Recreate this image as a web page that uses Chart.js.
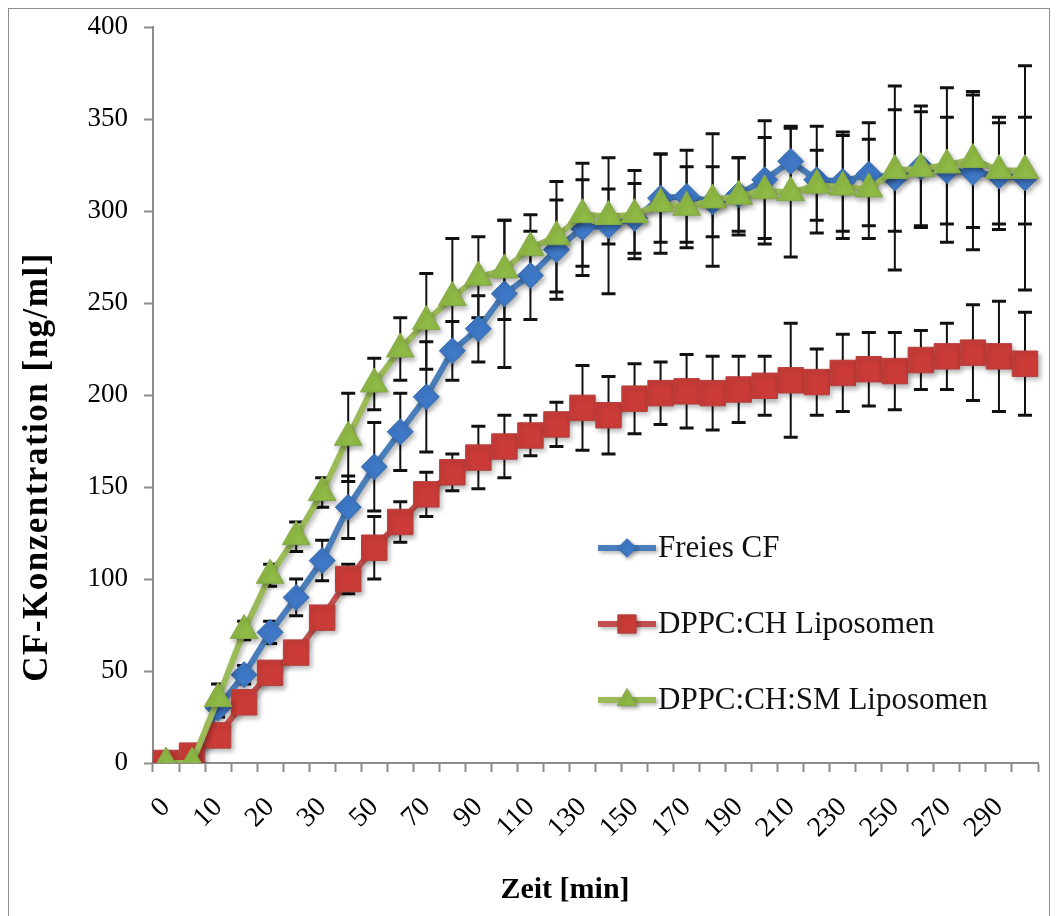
<!DOCTYPE html>
<html>
<head>
<meta charset="utf-8">
<title>CF-Freisetzung</title>
<script src="https://cdn.jsdelivr.net/npm/chart.js"></script>
<style>
  body { margin: 0; background: #fff; }
  #wrap { position: relative; width: 1057px; height: 916px; }
  #frame { position: absolute; left: 8px; top: 8px; width: 1040px; height: 930px;
           border: 1px solid #8c8c8c; pointer-events: none; }
</style>
</head>
<body>
<div id="wrap">
  <canvas id="myChart"></canvas>
  <div id="frame"></div>
</div>
<script>
// Zeitpunkte [min]
const minutes = [0, 5, 10, 15, 20, 25, 30, 40, 50, 60, 70, 80, 90, 100, 110, 120, 130, 140, 150,
  160, 170, 180, 190, 200, 210, 220, 230, 240, 250, 260, 270, 280, 290, 300];

// CF-Konzentration [ng/ml], Mittelwerte
const freiesCF = [0, 0, 30, 48, 71, 90, 110, 139, 161, 180, 199, 224, 236, 255, 265, 279, 291,
  292, 296, 307, 308, 305, 309, 317, 327, 317, 316, 320, 318, 324, 322, 321, 319, 318];
const dppcCh = [0, 4, 15, 33, 49, 60, 79, 100, 117, 131, 146, 158, 166, 172, 178, 184, 193,
  189, 198, 201, 202, 201, 203, 205, 208, 207, 212, 214, 213, 219, 221, 223, 221, 217];
const dppcChSm = [0, 0, 35, 72, 102, 123, 147, 177, 206, 225, 240, 253, 264, 268, 280, 286, 298,
  297, 298, 304, 302, 306, 308, 311, 310, 314, 313, 312, 322, 323, 325, 328, 322, 322];

// Standardabweichungen
const freiesCFErr = [0, 0, 5, 5, 6, 10, 11, 17, 24, 21, 30, 16, 18, 40, 24, 27, 26,
  37, 19, 24, 25, 19, 20, 32, 19, 29, 27, 28, 50, 33, 29, 42, 29, 61];
const dppcChErr = [0, 2, 3, 3, 4, 4, 5, 8, 17, 11, 12, 10, 17, 17, 11, 12, 23,
  21, 19, 17, 20, 20, 18, 16, 31, 18, 21, 20, 21, 16, 18, 26, 30, 28];
const dppcChSmErr = [0, 0, 8, 5, 6, 8, 8, 24, 14, 17, 26, 32, 22, 27, 18, 30, 28,
  15, 24, 27, 22, 36, 21, 29, 35, 19, 28, 27, 33, 31, 42, 37, 29, 29];

const yTicks = [0, 50, 100, 150, 200, 250, 300, 350, 400];

const serif = "'Liberation Serif', 'Times New Roman', serif";

// error bars, drawn behind the lines
const errorBars = {
  id: "errorBars",
  beforeDatasetsDraw(chart) {
    const { ctx, scales: { x, y } } = chart;
    ctx.save();
    ctx.strokeStyle = "#111";
    chart.data.datasets.forEach((ds) => {
      ds.data.forEach((v, i) => {
        const e = ds.errors[i];
        if (!e) return;
        const px = x.getPixelForValue(i);
        const top = y.getPixelForValue(v + e);
        const bot = y.getPixelForValue(v - e);
        ctx.lineWidth = 2;
        ctx.beginPath();
        ctx.moveTo(px, top);
        ctx.lineTo(px, bot);
        ctx.stroke();
        ctx.lineWidth = 3;
        ctx.beginPath();
        ctx.moveTo(px - 7, top);
        ctx.lineTo(px + 7, top);
        ctx.moveTo(px - 7, bot);
        ctx.lineTo(px + 7, bot);
        ctx.stroke();
      });
    });
    ctx.restore();
  },
};

// soft shadow like the Excel markers
const shadow = {
  id: "shadow",
  beforeDatasetDraw(chart) {
    const c = chart.ctx;
    c.save();
    c.shadowColor = "rgba(0,0,0,0.3)";
    c.shadowBlur = 5;
    c.shadowOffsetX = 2;
    c.shadowOffsetY = 3;
  },
  afterDatasetDraw(chart) {
    chart.ctx.restore();
  },
};

// axis titles and the legend inside the plot
const extras = {
  id: "extras",
  afterDraw(chart) {
    const { ctx, chartArea } = chart;
    ctx.save();
    ctx.fillStyle = "#000";
    ctx.textAlign = "center";
    ctx.textBaseline = "middle";

    ctx.font = "bold 35px " + serif;
    ctx.save();
    ctx.translate(38, 467);
    ctx.rotate(-Math.PI / 2);
    ctx.letterSpacing = "1.5px";
    ctx.fillText("CF-Konzentration [ng/ml]", 0, 0);
    ctx.restore();

    ctx.font = "bold 30px " + serif;
    ctx.fillText("Zeit [min]", 565, 890);

    // legend
    const lx = chartArea.left + 445;
    chart.data.datasets.forEach((ds, i) => {
      const ly = chartArea.top + 521 + i * 76;
      ctx.save();
      ctx.shadowColor = "rgba(0,0,0,0.3)";
      ctx.shadowBlur = 4;
      ctx.shadowOffsetX = 2;
      ctx.shadowOffsetY = 2;
      ctx.strokeStyle = ds.borderColor;
      ctx.lineWidth = 6;
      ctx.beginPath();
      ctx.moveTo(lx, ly);
      ctx.lineTo(lx + 58, ly);
      ctx.stroke();
      ctx.fillStyle = ds.pointBackgroundColor;
      ctx.strokeStyle = ds.pointBorderColor;
      ctx.lineWidth = 1;
      Chart.helpers.drawPoint(ctx, {
        pointStyle: ds.pointStyle,
        radius: ds.pointRadius * 0.72,
        rotation: 0,
        borderWidth: 1,
      }, lx + 29, ly);
      ctx.restore();
      ctx.fillStyle = "#111";
      ctx.textAlign = "left";
      ctx.font = "31px " + serif;
      ctx.fillText(ds.label, lx + 60, ly + 1);
    });
    ctx.restore();
  },
};

const ctx = document.getElementById("myChart");

new Chart(ctx, {
  type: "line",
  data: {
    labels: minutes,
    datasets: [
      {
        label: "Freies CF",
        data: freiesCF,
        errors: freiesCFErr,
        borderColor: "#4a7ebb",
        borderWidth: 6,
        pointStyle: "rectRot",
        pointRadius: 13,
        pointBackgroundColor: "#3e78c6",
        pointBorderColor: "#3a6fb0",
        pointBorderWidth: 1,
        order: 2,
      },
      {
        label: "DPPC:CH Liposomen",
        data: dppcCh,
        errors: dppcChErr,
        borderColor: "#c0504d",
        borderWidth: 6,
        pointStyle: "rect",
        pointRadius: 18,
        pointBackgroundColor: "#cb3c38",
        pointBorderColor: "#b5403d",
        pointBorderWidth: 1,
        order: 1,
      },
      {
        label: "DPPC:CH:SM Liposomen",
        data: dppcChSm,
        errors: dppcChSmErr,
        borderColor: "#9bbb59",
        borderWidth: 6,
        pointStyle: "triangle",
        pointRadius: 16,
        pointBackgroundColor: "#8fba45",
        pointBorderColor: "#86a84c",
        pointBorderWidth: 1,
        order: 0,
      },
    ],
  },
  options: {
    responsive: true,
    maintainAspectRatio: false,
    animation: false,
    layout: { padding: { left: 0, top: 27, right: 19, bottom: 0 } },
    plugins: {
      legend: { display: false },
      tooltip: { enabled: false },
    },
    scales: {
      x: {
        offset: true,
        grid: {
          offset: true,
          drawOnChartArea: false,
          tickLength: 9,
          tickColor: "#8c8c8c",
          tickWidth: 2,
        },
        border: { color: "#8c8c8c", width: 2 },
        ticks: {
          autoSkip: false,
          minRotation: 45,
          maxRotation: 45,
          padding: 19,
          color: "#000",
          font: { family: serif, size: 28 },
          callback: (v, i) => (i % 2 === 0 ? String(minutes[i]) : ""),
        },
        afterFit: (scale) => {
          scale.height = 153;
          scale.paddingLeft = 0;
          scale.paddingRight = 0;
        },
      },
      y: {
        min: 0,
        max: 400,
        afterBuildTicks: (scale) => { scale.ticks = yTicks.map((v) => ({ value: v })); },
        grid: {
          drawOnChartArea: false,
          tickLength: 9,
          tickColor: "#8c8c8c",
          tickWidth: 2,
        },
        border: { color: "#8c8c8c", width: 2 },
        ticks: {
          padding: 16,
          color: "#000",
          font: { family: serif, size: 27 },
        },
        afterFit: (scale) => {
          scale.width = 153;
          scale.paddingTop = 0;
          scale.paddingBottom = 0;
        },
      },
    },
  },
  plugins: [errorBars, shadow, extras],
});
</script>
</body>
</html>
